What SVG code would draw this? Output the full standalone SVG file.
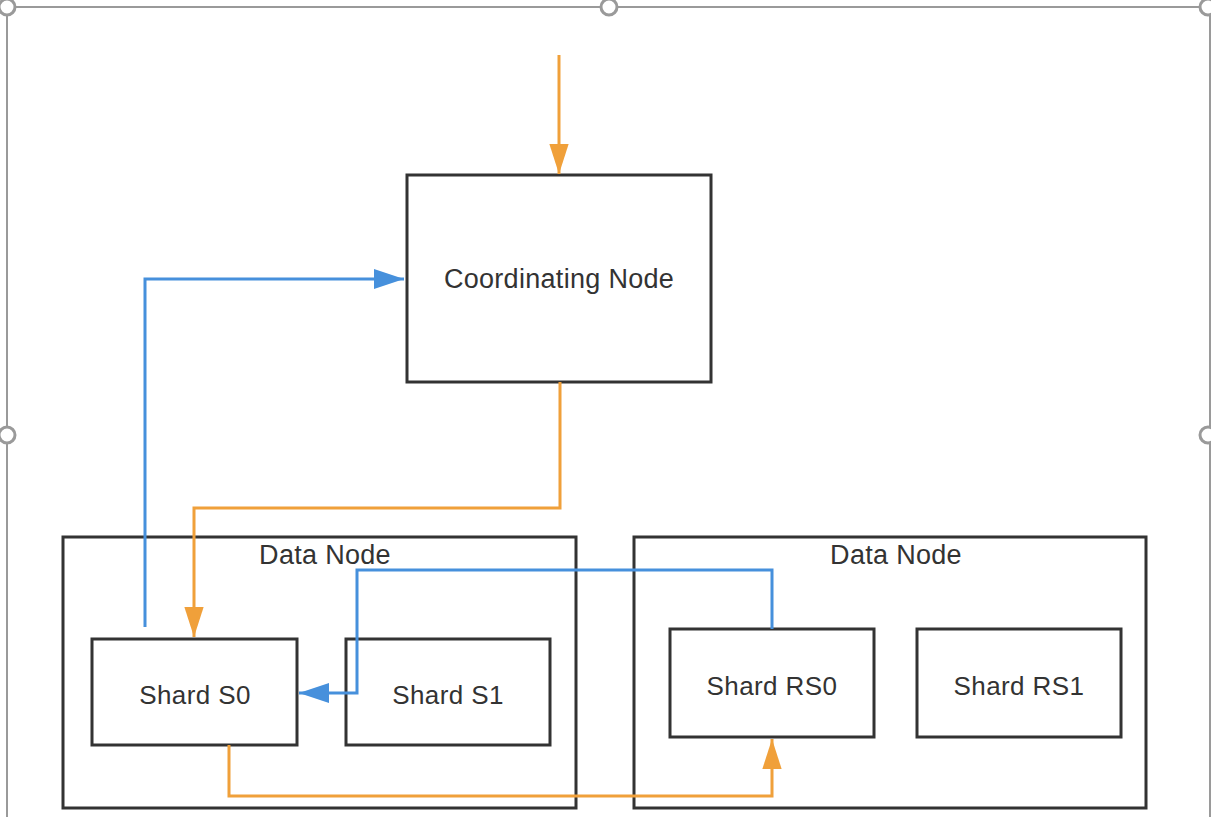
<svg xmlns="http://www.w3.org/2000/svg" width="1211" height="817" viewBox="0 0 1211 817">
<style>
.frame{stroke:#9a9a9a;stroke-width:2;fill:none}
.handle{stroke:#9a9a9a;stroke-width:3;fill:#fff}
.box{fill:#fff;stroke:#333;stroke-width:3}
.group{fill:none;stroke:#333;stroke-width:3}
.lbl{font-family:"Liberation Sans",Arial,sans-serif;font-size:26px;fill:#333;text-anchor:middle;letter-spacing:0.4px}
.or{fill:none;stroke:#F0A03A;stroke-width:3}
.bl{fill:none;stroke:#4690DC;stroke-width:3}
</style>
<defs>
<marker id="ao" markerUnits="userSpaceOnUse" markerWidth="30" markerHeight="20" refX="28" refY="9" orient="auto" viewBox="0 0 28 18"><path d="M0,0 L28,9 L0,18 Z" fill="#F0A03A"/></marker>
<marker id="ab" markerUnits="userSpaceOnUse" markerWidth="30" markerHeight="20" refX="27" refY="9" orient="auto" viewBox="0 0 27 18"><path d="M0,0 L27,9 L0,18 Z" fill="#4690DC"/></marker>
</defs>
<rect width="1211" height="817" fill="#fff"/>
<g id="frame">
<line class="frame" x1="7" y1="7" x2="1210" y2="7"/>
<line class="frame" x1="7" y1="7" x2="7" y2="817"/>
<line class="frame" x1="1210" y1="7" x2="1210" y2="817"/>
<circle class="handle" cx="7" cy="7" r="8"/>
<circle class="handle" cx="609" cy="7" r="8"/>
<circle class="handle" cx="1208" cy="7" r="8"/>
<circle class="handle" cx="7" cy="435" r="8"/>
<circle class="handle" cx="1208" cy="435" r="8"/>
</g>
<g id="coord">
<rect class="box" x="407" y="175" width="304" height="207"/>
<text class="lbl" x="559" y="288" style="font-size:27px;letter-spacing:0.3px">Coordinating Node</text>
</g>
<g id="datanode1">
<rect class="group" x="63" y="537" width="513" height="271"/>
<text class="lbl" x="325" y="564" style="font-size:27px;letter-spacing:0.3px">Data Node</text>
</g>
<g id="datanode2">
<rect class="group" x="634" y="537" width="512" height="271"/>
<text class="lbl" x="896" y="564" style="font-size:27px;letter-spacing:0.3px">Data Node</text>
</g>
<g id="s0">
<rect class="box" x="92" y="639" width="205" height="106"/>
<text class="lbl" x="195" y="704">Shard S0</text>
</g>
<g id="s1">
<rect class="box" x="346" y="639" width="204" height="106"/>
<text class="lbl" x="448" y="704">Shard S1</text>
</g>
<g id="rs0">
<rect class="box" x="670" y="629" width="204" height="108"/>
<text class="lbl" x="772" y="695">Shard RS0</text>
</g>
<g id="rs1">
<rect class="box" x="917" y="629" width="204" height="108"/>
<text class="lbl" x="1019" y="695">Shard RS1</text>
</g>
<g id="connectors">
<path class="or" d="M559,55 L559,174" marker-end="url(#ao)"/>
<path class="or" d="M560,382 L560,508 L194,508 L194,637" marker-end="url(#ao)"/>
<path class="or" d="M229,745 L229,796 L772,796 L772,739" marker-end="url(#ao)"/>
<path class="bl" d="M145,627 L145,279 L404,279" marker-end="url(#ab)"/>
<path class="bl" d="M772,629 L772,570 L357,570 L357,693 L299,693" marker-end="url(#ab)"/>
</g>
</svg>
